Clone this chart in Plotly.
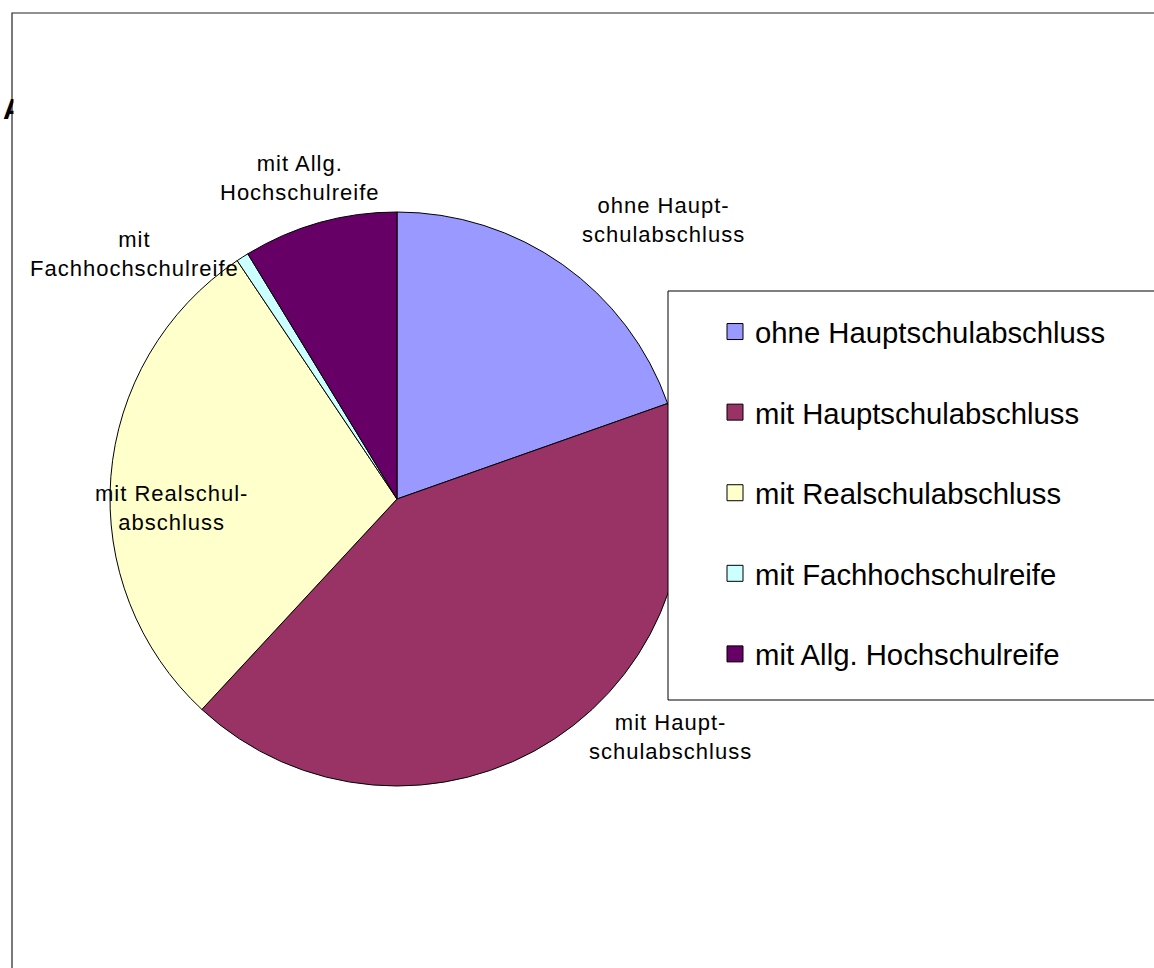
import plotly.graph_objects as go

# ---- data ----
categories = [
    "ohne Hauptschulabschluss",
    "mit Hauptschulabschluss",
    "mit Realschulabschluss",
    "mit Fachhochschulreife",
    "mit Allg. Hochschulreife",
]
values = [19.6, 42.3, 28.7, 0.7, 8.7]
slice_labels = [
    "ohne Haupt-<br>schulabschluss",
    "mit Haupt-<br>schulabschluss",
    "mit Realschul-<br>abschluss",
    "mit<br>Fachhochschulreife",
    "mit Allg.<br>Hochschulreife",
]
colors = ["#9999FF", "#993366", "#FFFFCC", "#CCFFFF", "#660066"]
title_text = "A"

# ---- layout helpers (pixel -> paper) ----
W, H = 1154, 968
def px(x):
    return x / W
def py(y):
    return 1 - y / H

FONT = "Arial, 'Liberation Sans', sans-serif"

fig = go.Figure()

fig.add_trace(go.Pie(
    labels=categories,
    values=values,
    sort=False,
    direction="clockwise",
    rotation=0,
    marker=dict(colors=colors, line=dict(color="black", width=1)),
    textinfo="none",
    hoverinfo="label+percent",
    showlegend=False,
    domain=dict(x=[px(110), px(684)], y=[py(786), py(212)]),
))

# legend entries (one per category)
for cat, col in zip(categories, colors):
    fig.add_trace(go.Scatter(
        x=[None], y=[None], mode="markers", name=cat, legendgroup=cat,
        marker=dict(symbol="square", size=16, color=col,
                    line=dict(color="black", width=1)),
        showlegend=True, hoverinfo="skip",
    ))

# label positions around the pie (pixel centres of text blocks)
label_pos = [(663, 220), (670, 737), (171, 508), (134, 254), (300, 178)]
annotations = []
for txt, (lx, ly) in zip(slice_labels, label_pos):
    annotations.append(dict(
        text=txt, x=px(lx), y=py(ly), xref="paper", yref="paper",
        xanchor="center", yanchor="middle", showarrow=False,
        font=dict(family=FONT, size=22, color="black"), align="center",
    ))

# clipped title glyph at the left edge
annotations.append(dict(
    text="<b>" + title_text + "</b>", x=px(1), y=py(109), xref="paper", yref="paper",
    xanchor="left", yanchor="middle", showarrow=False,
    font=dict(family=FONT, size=29, color="black"), align="left",
))
annotations.append(dict(
    text="&nbsp;" * 8, x=px(13), y=py(109), xref="paper", yref="paper",
    xanchor="left", yanchor="middle", showarrow=False, bgcolor="white",
    font=dict(family=FONT, size=30, color="white"), borderpad=0, align="left",
))

shapes = [
    # outer chart frame (extends beyond the right/bottom edges)
    dict(type="rect", xref="paper", yref="paper",
         x0=px(12), x1=1.1, y0=-0.1, y1=py(13),
         line=dict(color="#222222", width=1.2), fillcolor="rgba(0,0,0,0)", layer="below"),
    # legend box
    dict(type="rect", xref="paper", yref="paper",
         x0=px(668), x1=1.1, y0=py(700), y1=py(291),
         line=dict(color="black", width=1), fillcolor="white", layer="above"),
]

fig.update_layout(
    width=W, height=H,
    margin=dict(l=0, r=0, t=0, b=0),
    paper_bgcolor="white", plot_bgcolor="white",
    xaxis=dict(visible=False), yaxis=dict(visible=False),
    font=dict(family=FONT, color="black"),
    showlegend=True,
    legend=dict(
        x=px(715), y=py(306), xanchor="left", yanchor="top",
        bgcolor="rgba(0,0,0,0)", borderwidth=0,
        font=dict(family=FONT, size=29.3, color="black"),
        tracegroupgap=39.5, itemclick=False, itemdoubleclick=False,
    ),
    annotations=annotations,
    shapes=shapes,
)

post = """
document.body.style.margin='0';
document.querySelectorAll('text.annotation-text').forEach(function(e){
  if (e.textContent.indexOf('schul') >= 0 || e.textContent.indexOf('mit') >= 0) {
    e.style.letterSpacing = '1.0px';
  }
});
"""

fig.write_html("out.html", post_script=post, config={"displayModeBar": False})
